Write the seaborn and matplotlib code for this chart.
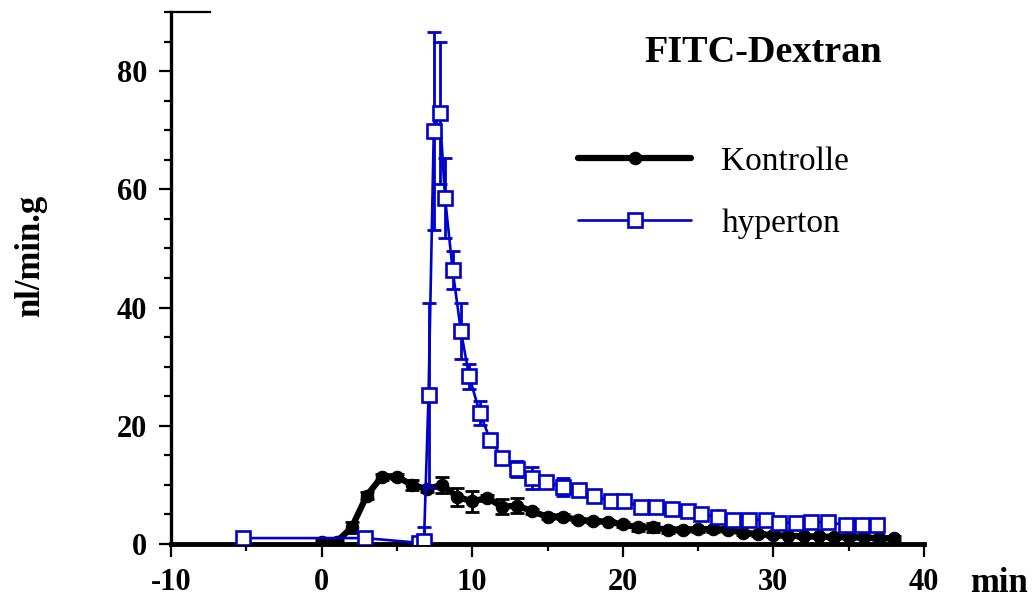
import numpy as np
import pandas as pd
import matplotlib
matplotlib.use("Agg")
import matplotlib.pyplot as plt
import seaborn as sns
from matplotlib.ticker import MultipleLocator

# ---- data ----
kontrolle_t = list(range(0, 39))
kontrolle_y = [0.4, 0.4, 2.8, 8.2, 11.4, 11.4, 10.0, 9.3, 10.0, 8.0,
               7.2, 7.8, 6.3, 6.5, 5.5, 4.6, 4.6, 4.1, 3.9, 3.8,
               3.3, 2.8, 2.8, 2.4, 2.4, 2.5, 2.5, 2.4, 1.9, 1.7,
               1.5, 1.4, 1.3, 1.3, 1.2, 1.2, 1.1, 1.0, 1.0]
kontrolle_err = [0.3, 0.3, 1.0, 0.6, 0.5, 0.4, 0.8, 0.5, 1.4, 1.5,
                 1.8, 0.5, 1.3, 1.3, 0.5, 0.4, 0.4, 0.3, 0.3, 0.3,
                 0.4, 0.6, 0.7, 0.5, 0.4, 0.4, 0.4, 0.4, 0.3, 0.3,
                 0.3, 0.3, 0.3, 0.3, 0.3, 0.3, 0.3, 0.3, 0.3]

hyperton_t = [-5.25, 2.9, 6.45, 6.8, 7.1, 7.45, 7.85, 8.2, 8.7, 9.25,
              9.8, 10.5, 11.2, 12.0, 13.0, 14.0, 14.9, 16.0, 17.1, 18.1,
              19.2, 20.1, 21.2, 22.2, 23.3, 24.3, 25.2, 26.3, 27.3, 28.4,
              29.5, 30.4, 31.5, 32.5, 33.6, 34.8, 35.9, 36.9]
hyperton_y = [1.0, 1.0, 0.2, 0.5, 25.2, 69.9, 72.9, 58.5, 46.4, 36.0,
              28.4, 22.2, 17.6, 14.6, 12.7, 11.2, 10.5, 9.6, 9.1, 8.1,
              7.3, 7.2, 6.3, 6.3, 5.9, 5.5, 5.1, 4.5, 4.1, 4.1,
              4.1, 3.6, 3.6, 3.7, 3.7, 3.2, 3.2, 3.2]
hyperton_err = [0.3, 0.3, 0.3, 2.3, 15.5, 16.8, 12.0, 6.8, 3.2, 4.7,
                2.1, 2.0, 1.0, 0.6, 1.3, 1.9, 0.6, 1.5, 0.5, 0.4,
                0.3, 0.3, 0.3, 0.3, 0.3, 0.3, 0.3, 0.3, 0.3, 0.3,
                0.3, 0.3, 0.3, 0.3, 0.3, 0.3, 0.3, 0.3]

title = "FITC-Dextran"
x_label = "min"
y_label = "nl/min.g"
series_names = ["Kontrolle", "hyperton"]

BLUE = "#0000CC"

sns.set_theme(style="ticks", rc={"text.color": "black",
                                 "axes.labelcolor": "black",
                                 "xtick.color": "black",
                                 "ytick.color": "black",
                                 "axes.edgecolor": "black",
                                 "axes.unicode_minus": False})
plt.rcParams["font.family"] = ["Liberation Serif", "DejaVu Serif"]

fig = plt.figure(figsize=(10.33, 6.0), dpi=100)
ax = fig.add_axes([171 / 1033, 56 / 600, 753 / 1033, 532 / 600])

df_k = pd.DataFrame({"t": kontrolle_t, "v": kontrolle_y})
df_h = pd.DataFrame({"t": hyperton_t, "v": hyperton_y})

# error bars
ax.errorbar(kontrolle_t, kontrolle_y, yerr=kontrolle_err, fmt="none",
            ecolor="black", elinewidth=2, capsize=5, capthick=2, zorder=2)
ax.errorbar(hyperton_t, hyperton_y, yerr=hyperton_err, fmt="none",
            ecolor=BLUE, elinewidth=2, capsize=5, capthick=2, zorder=4)

sns.lineplot(data=df_k, x="t", y="v", ax=ax, color="black", lw=4.5,
             marker="o", markersize=9, markeredgecolor="black",
             markerfacecolor="black", label=series_names[0], zorder=3,
             sort=False)
sns.lineplot(data=df_h, x="t", y="v", ax=ax, color=BLUE, lw=1.9,
             marker="s", markersize=9.5, markerfacecolor="white",
             markeredgecolor=BLUE, markeredgewidth=1.9,
             label=series_names[1], zorder=5, sort=False)

ax.set_xlim(-10, 40)
ax.set_ylim(0, 90)
ax.xaxis.set_major_locator(MultipleLocator(10))
ax.xaxis.set_minor_locator(MultipleLocator(5))
ax.yaxis.set_major_locator(MultipleLocator(20))
ax.yaxis.set_minor_locator(MultipleLocator(5))
ax.set_xlabel("")
ax.set_ylabel("")

ax.spines["right"].set_visible(False)
ax.spines["top"].set_bounds(-10, -7.4)
ax.spines["top"].set_linewidth(1.6)
ax.spines["left"].set_linewidth(2.4)
ax.spines["bottom"].set_linewidth(3.5)
for s in ["left", "bottom", "top"]:
    ax.spines[s].set_color("black")
ax.spines["bottom"].set_zorder(1)

ax.tick_params(axis="both", which="major", direction="out", length=9,
               width=1.6, color="black", labelsize=22, pad=8,
               labelcolor="black")
ax.tick_params(axis="both", which="minor", direction="out", length=5,
               width=1.6, color="black")
ax.tick_params(top=False, right=False, which="both")
for lab in ax.get_xticklabels() + ax.get_yticklabels():
    lab.set_fontweight("bold")

fig.text(882 / 1033, 1 - 53 / 600, title, ha="right", va="center",
         fontsize=27.5, fontweight="bold", color="black")
fig.text(999 / 1033, 1 - 583 / 600, x_label, ha="center", va="center",
         fontsize=25, fontweight="bold", color="black")
fig.text(31 / 1033, 1 - 256 / 600, y_label, ha="center", va="center",
         rotation=90, fontsize=25, fontweight="bold", color="black")

leg = ax.legend(loc="upper left", bbox_to_anchor=(578 / 1033, 1 - 146 / 600),
                bbox_transform=fig.transFigure, frameon=False, fontsize=24,
                handlelength=3.4, handletextpad=0.9, labelspacing=0.95,
                borderpad=0, borderaxespad=0)
for t in leg.get_texts():
    t.set_color("black")

fig.savefig("out.png", dpi=100, facecolor="white")
